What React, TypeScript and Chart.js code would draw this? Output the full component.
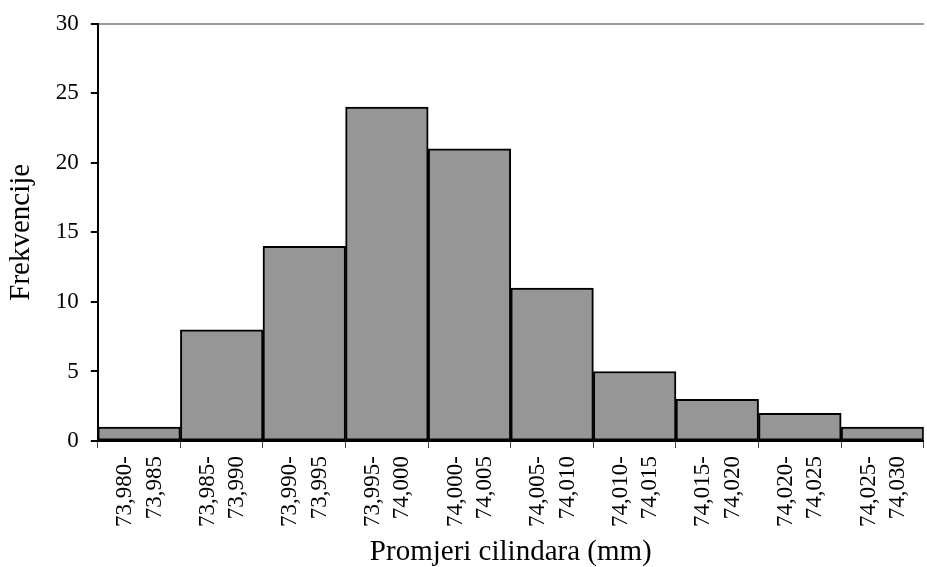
import React, { useEffect, useRef } from "react";
import { Chart, registerables } from "chart.js";

Chart.register(...registerables);

const categories: string[][] = [
  ["73,980-", "73,985"],
  ["73,985-", "73,990"],
  ["73,990-", "73,995"],
  ["73,995-", "74,000"],
  ["74,000-", "74,005"],
  ["74,005-", "74,010"],
  ["74,010-", "74,015"],
  ["74,015-", "74,020"],
  ["74,020-", "74,025"],
  ["74,025-", "74,030"],
];
const frequencies: number[] = [1, 8, 14, 24, 21, 11, 5, 3, 2, 1];
const yMin = 0;
const yMax = 30;
const yStep = 5;
const xTitle = "Promjeri cilindara (mm)";
const yTitle = "Frekvencije";

const FONT = "'Liberation Serif', 'Times New Roman', serif";

export default function App() {
  const ref = useRef<HTMLCanvasElement | null>(null);
  useEffect(() => {
    if (!ref.current) return;
    const chart = new Chart(ref.current, {
      type: "bar",
      data: {
        labels: categories,
        datasets: [
          {
            data: frequencies,
            backgroundColor: "#969696",
            borderColor: "#000000",
            borderWidth: 2,
            borderSkipped: false,
            barPercentage: 1,
            categoryPercentage: 1,
          },
        ],
      },
      options: {
        animation: false,
        responsive: false,
        maintainAspectRatio: false,
        layout: { padding: { top: 4, right: 13, left: 0, bottom: 0 } },
        plugins: {
          legend: { display: false },
          tooltip: { enabled: false },
        },
        scales: {
          x: {
            offset: true,
            grid: {
              offset: true,
              drawOnChartArea: false,
              tickLength: 7,
              tickColor: "#444",
              lineWidth: 1,
            },
            border: { color: "#000", width: 2 },
            ticks: {
              autoSkip: false,
              minRotation: 90,
              maxRotation: 90,
              color: "#000",
              padding: 8,
              labelOffset: -14,
              font: { family: FONT, size: 23, lineHeight: 1.28 },
            },
            title: {
              display: true,
              text: xTitle,
              color: "#000",
              padding: { top: 3, bottom: 0 },
              font: { family: FONT, size: 29, lineHeight: 1.0 },
            },
          },
          y: {
            min: yMin,
            max: yMax,
            ticks: {
              stepSize: yStep,
              color: "#000",
              padding: 12,
              font: { family: FONT, size: 23, lineHeight: 1.0 },
            },
            grid: {
              color: (ctx: any) => (ctx.tick && ctx.tick.value === yMax ? "#999999" : "transparent"),
              lineWidth: 2,
              tickColor: "#000",
              tickLength: 7,
              drawTicks: true,
            },
            border: { color: "#000", width: 2 },
            title: {
              display: true,
              text: yTitle,
              color: "#000",
              padding: { top: 4, bottom: 5 },
              font: { family: FONT, size: 29 },
            },
          },
        },
      },
    });
    return () => chart.destroy();
  }, []);
  return (
    <div
      style={{
        position: "fixed",
        left: 0,
        top: 0,
        width: "100vw",
        height: "100vh",
        overflow: "hidden",
        background: "#fff",
      }}
    >
      <canvas ref={ref} width={950} height={567} style={{ display: "block", width: 950, height: 567 }} />
    </div>
  );
}
